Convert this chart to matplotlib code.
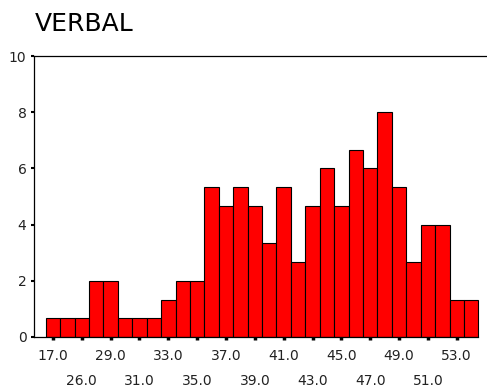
"""Histogram of VERBAL scores, percent of cases per score value."""

import matplotlib.pyplot as plt

plt.rcParams['font.family'] = ['DejaVu Sans']

# one bar per observed score value
scores = [17, 23, 26, 28, 29, 30, 31, 32, 33, 34, 35, 36, 37, 38, 39,
          40, 41, 42, 43, 44, 45, 46, 47, 48, 49, 50, 51, 52, 53, 54]
percent = [0.67, 0.67, 0.67, 2.0, 2.0, 0.67, 0.67, 0.67, 1.33, 2.0,
           2.0, 5.33, 4.67, 5.33, 4.67, 3.33, 5.33, 2.67, 4.67, 6.0,
           4.67, 6.67, 6.0, 8.0, 5.33, 2.67, 4.0, 4.0, 1.33, 1.33]
y_ticks = [0, 2, 4, 6, 8, 10]

fig = plt.figure(figsize=(4.87, 3.88), dpi=100)
ax = fig.add_axes([33.5 / 487, 51 / 388, 1 - 33.5 / 487, 281 / 388])

pos = list(range(len(scores)))
ax.bar(pos, percent, width=1.0, color='#ff0000', edgecolor='black',
       linewidth=0.8)

ax.set_xlim(-1.35, 30.1)
ax.set_ylim(0, 10)
ax.spines['right'].set_visible(False)
ax.spines['bottom'].set_bounds(-1.35, 29.5)
for side in ('left', 'top', 'bottom'):
    ax.spines[side].set_linewidth(0.9)

# every other value labelled, staggered over two rows
tick_pos = pos[::2]
tick_labels = []
for i, p in enumerate(tick_pos):
    txt = f'{scores[p]:.1f}'
    tick_labels.append(txt if i % 2 == 0 else '\n' + txt)
ax.set_xticks(tick_pos, tick_labels)
ax.set_yticks(y_ticks, [str(v) for v in y_ticks])
ax.tick_params(axis='x', length=2, width=2.5, pad=7, labelsize=10,
               colors='black', labelcolor='#222222')
ax.tick_params(axis='y', length=2, width=1.5, pad=3, labelsize=10,
               labelcolor='#222222')
for lbl in ax.get_xticklabels():
    lbl.set_linespacing(1.95)
    lbl.set_verticalalignment('top')

fig.text(35 / 487, 1 - 31 / 388, 'VERBAL', fontsize=18, ha='left',
         va='baseline', color='black')

fig.savefig('out.png', dpi=100)
